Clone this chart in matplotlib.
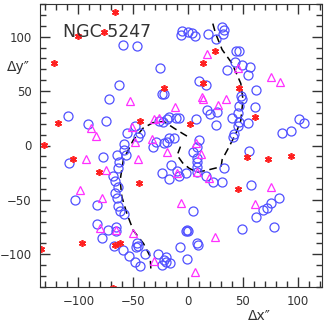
# NGC 5247 - positions of HII regions / SNe and the spiral arms
import matplotlib.pyplot as plt
from matplotlib.ticker import MultipleLocator

# blue circles
blue_x = [-59, -46.5, -25.2, -63.2, -72.3, -23.4, -109.7, -90.9, -75, -48.3, -55.6, -43.8, -45.9,
          -58.6, -58.6, -32.2, -28.9, -22.2, -65, -56.5, -77.5, -27, -22.8,
          -5.2, -6.1, 0, 3.6, 6.1, 18, 31, 32.5, 31.6, 25.2, 43.5, 46.2, 42.6, 49.2, 56.2, 35.8, 55,
          9.8, 16.7, 62.3, 48.6, 49.2, 46.5, 60.8, 17.6, 20.1, 26.7, 45.6, 40.4, 46.2, 55, 25.2, 45.6,
          42.2, 40.7, 7.3, -17, -19, -10.9, -8.5, -21.9, 85.4, 93.6, 101.2, 106, 55.9, 10.3, 7.9, 4.8,
          -17, -12.8, -19.4, 8.5,
          -108.2, -62.9, -63.5, -68.1, -66.3, -63.5, -66.5, -64.4, -63.5, -62, -58.3, -24, -103.3,
          -82.7, -82.7, -78.7, -72.7, -65.9, -65.9, -67.7, -59.5, -46.8, -47.4, -46, -53.5, -48.3,
          -43.8, -39.2, -27.1, -24, -21.9,
          -15.8, -17.6, -9.8, -7.9, -2.1, 8.5, 8.5, 7.9, 16.7, 23.1, 30.7, 32.8, 57.7, 4.8, 62.3, 68.4,
          72.3, 75.9, 82.9, 49.5, 78.4, -1.2, 0, -2, 8.5, 9, -7.3, -0.6, -20.3, -20.3, -16.4]
blue_y = [92.4, 91.5, 71.2, 55.9, 42.7, 47, 27.1, 19.5, 22.2, 18.2, 11.5, 11.2, 7.5,
          1.4, -4.4, -1.1, 3.2, 2.6, -9, -9, -10.8, 22.8, 21.6,
          105.2, 101.8, 104, 103.7, 100.9, 102.2, 109.2, 106.4, 102.2, 97.9, 86.9, 86.9, 76.7, 74, 71.9,
          69.1, 64.5, 59, 55.9, 51, 45.5, 42.5, 36.6, 35.1, 32.9, 29.2, 30.8, 29.9, 25, 21.3, 20.4, 18.6,
          17.9, 10.9, 8.1, 24.4, 26.5, 24.5, 25, 25, 47.3, 11.2, 13, 24.4, 20.4, -4.8, 4.8, -1.4, -6,
          6.6, 6.6, 2.9, -11.8,
          -15.8, -14.9, -21, -28, -32.9, -37.9, -43.4, -48, -55.6, -59.9, -63, -25.6, -50.1,
          -55, -72.2, -85, -77.7, -74.9, -78.3, -92.1, -96, -89.9, -93.6, -92, -101.3, -107.4,
          -110.8, -99.7, -99.7, -110.1, -105.2,
          -17.9, -31.1, -23.4, -28, -25.6, -14.9, -20, -24.1, -28, -33.3, -33.3, -21, -36.3, -59.9, -65.4,
          -59.6, -57.7, -52.6, -48, -76.7, -75.2, -77.7, -79, -78.5, -89.9, -91, -93.6, -104.6, -102.8,
          -107.4, -108.3]

# red asterisks
red_x = [-66.5, -100, -76.5, -121.9, -118.5, -131, -104.5, -43.8, -21.9, 24.9, 13.7, 14, 46.2,
         60.8, 1.8, 54, 73.2, 93.6, -80.9, -44.7, -96.9, -66.5, -62, -134, -68.6, 45.6]
red_y = [123, 100.6, 104, 75.5, 21, 0.5, -12.5, 22.8, 52.8, 86.6, 75.5, 57.2, 52.8,
         26.5, 19.8, -10.9, -12.7, -9.7, -24.4, -34.2, -89.9, -91.5, -89.9, -95.4, -130.7, -39.7]

# magenta triangles
mag_x = [-52.9, -88.7, -84.1, -51.3, -48.3, -33.1, -31, -26.7, -93.3, -45.3, 17.3, 45.6, 75.4,
         83.9, 12.8, 13.7, 34.6, 27.6, -12.1, 7.3, 11.9, -19.4, -74.7, -98.4, -78.1, -80.2, -65.6,
         -49.9, -31, -9.8, 8.5, 19.1, 75.4, 60.8, -6.1, 24.6, 6.1]
mag_y = [40.9, 15.8, 8.7, 17.3, 2.9, 6, 24.4, 25, -12.4, -12.4, 83.8, 71, 63,
         58.1, 44.9, 43, 42.5, 36.9, 35.1, 2.6, -7.8, -5.7, -22.5, -40.9, -48.5, -76.1, -77.7,
         -80.1, -105.9, -25.6, -24, -30.1, -37.9, -54, -53.1, -84.4, -116]

# spiral arms (dashed)
arm1_x = [-34, -34.6, -40.7, -50, -56, -60.4, -62, -59, -53, -50, -41, -32, -22, -13, -5, 0]
arm1_y = [-113, -102, -90, -78, -62, -47, -32, -13, -1, 5, 16, 21, 22, 16, 11, 8]
arm2_x = [22.5, 25, 31, 40, 48, 50, 48, 43.5, 37.4, 31, 30, 18, 8.5, 1, -5, -10, -7]
arm2_y = [112, 103, 88, 75.5, 57, 42, 23, 11, -1, -13, -19.5, -22.5, -24.6, -21, -16, -9, -1]

grey = '#333333'
fig = plt.figure(figsize=(3.28, 3.23), dpi=100)
ax = fig.add_axes([40/328, 36/323, 282/328, 283/323])

ax.plot(arm1_x, arm1_y, color='k', ls=(0, (5, 3)), lw=1.1)
ax.plot(arm2_x, arm2_y, color='k', ls=(0, (5, 3)), lw=1.1)
ax.plot(blue_x, blue_y, 'o', mfc='none', mec='#5050ff', ms=6.5, mew=0.9)
ax.plot(mag_x, mag_y, '^', mfc='none', mec='#ff30ff', ms=5.5, mew=0.9)
ax.plot(red_x, red_y, ls='none', marker=(6, 2, 0), color='#ff2020', ms=5, mew=1.2)

ax.set_xlim(-135, 122)
ax.set_ylim(-130, 130)
ax.xaxis.set_major_locator(MultipleLocator(50))
ax.xaxis.set_minor_locator(MultipleLocator(10))
ax.yaxis.set_major_locator(MultipleLocator(50))
ax.yaxis.set_minor_locator(MultipleLocator(10))
ax.tick_params(which='both', direction='in', top=True, right=True, color=grey,
               labelsize=8.5, labelcolor=grey, pad=6)
ax.tick_params(which='major', length=7, width=1)
ax.tick_params(which='minor', length=4, width=1)
for s in ax.spines.values():
    s.set_color(grey)

ax.text(-114, 100, 'NGC 5247', fontsize=12.5, color=grey)
fig.text(7/328, 1 - 71/323, 'Δy″', fontsize=10, color=grey)
fig.text(248/328, 1 - 320/323, 'Δx″', fontsize=10, color=grey)

fig.savefig('out.png', dpi=100)
